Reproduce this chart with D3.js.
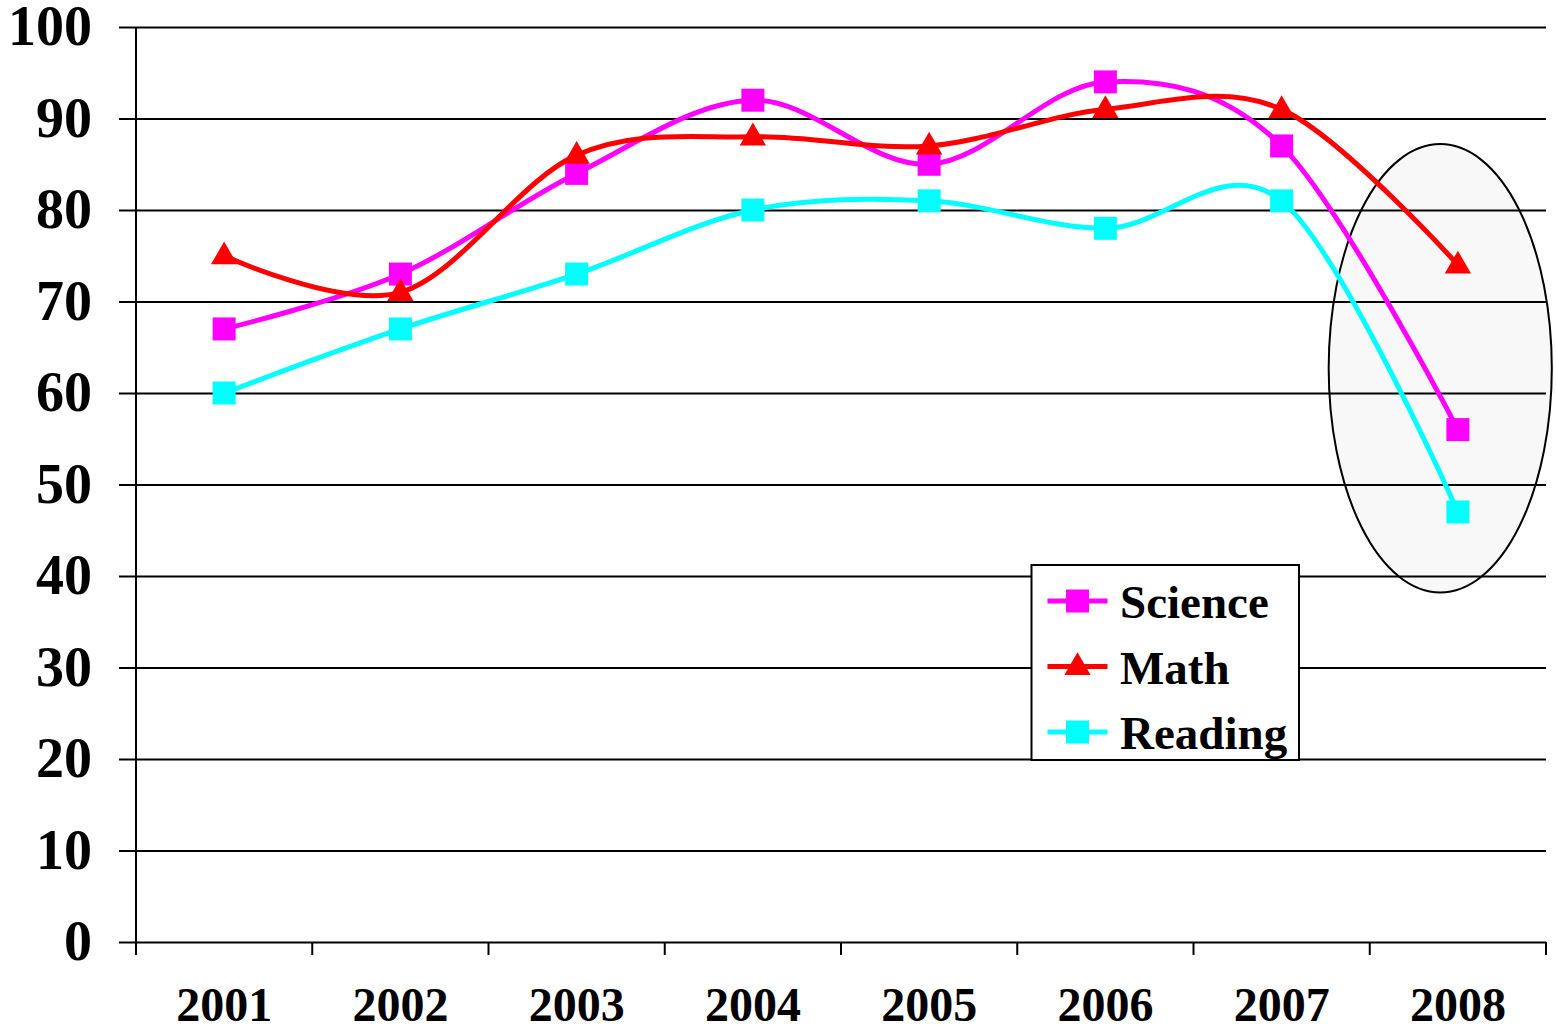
<!DOCTYPE html>
<html>
<head>
<meta charset="utf-8">
<script src="https://cdn.jsdelivr.net/npm/d3@7"></script>
<style>
  body { margin: 0; background: #fff; }
  text { font-family: "Liberation Serif", "Times New Roman", serif; font-weight: bold; }
</style>
</head>
<body>
<svg id="chart" width="1556" height="1030"></svg>
<script>
const years = ['2001', '2002', '2003', '2004', '2005', '2006', '2007', '2008'];
const science = [67, 73, 84, 92, 85, 94, 87, 56];
const math = [75, 71, 86, 88, 87, 91, 91, 74];
const reading = [60, 67, 73, 80, 81, 78, 81, 47];
const yTicks = [0, 10, 20, 30, 40, 50, 60, 70, 80, 90, 100];

const series = [
  { name: 'Science', values: science, color: '#ff00ff', marker: 'square' },
  { name: 'Math', values: math, color: '#ff0000', marker: 'triangle' },
  { name: 'Reading', values: reading, color: '#00ffff', marker: 'square' }
];

const svg = d3.select('#chart');
const plotLeft = 136, plotRight = 1546, plotTop = 27, plotBottom = 942;

const x = d3.scaleBand().domain(years).range([plotLeft, plotRight]);
const y = d3.scaleLinear().domain([0, 100]).range([plotBottom, plotTop]);
const cx = d => x(d) + x.bandwidth() / 2;

// highlight ellipse around the last year
const band = x.bandwidth();
svg.append('ellipse')
    .attr('cx', x('2008') + band * 0.4)
    .attr('cy', (y(87.2) + y(38.2)) / 2)
    .attr('rx', band * 0.633)
    .attr('ry', (y(38.2) - y(87.2)) / 2)
    .attr('fill', '#f8f8f8')
    .attr('stroke', '#000')
    .attr('stroke-width', 2);

// gridlines
const grid = svg.append('g')
    .attr('transform', 'translate(' + plotLeft + ',0)')
    .call(d3.axisLeft(y).tickValues(yTicks).tickSize(-(plotRight - plotLeft)).tickFormat(''));
grid.select('.domain').remove();
grid.selectAll('line').attr('stroke', '#000').attr('stroke-width', 2);

// y axis
const yAxis = svg.append('g')
    .attr('transform', 'translate(' + plotLeft + ',0)')
    .call(d3.axisLeft(y).tickValues(yTicks).tickSize(17).tickPadding(27).tickSizeOuter(0));
yAxis.select('.domain').attr('stroke', '#000').attr('stroke-width', 2)
    .attr('d', 'M0,' + plotTop + 'V' + (plotBottom + 13));
yAxis.selectAll('line').attr('stroke', '#000').attr('stroke-width', 2);
yAxis.selectAll('text').attr('font-size', 56).attr('fill', '#000')
    .style('font-family', '"Liberation Serif", "Times New Roman", serif').style('font-weight', 'bold');

// x axis: ticks at band edges, labels at centres
const xAxis = svg.append('g')
    .attr('transform', 'translate(0,' + plotBottom + ')')
    .call(d3.axisBottom(x).tickSize(0).tickPadding(45).tickSizeOuter(0));
xAxis.select('.domain').remove();
xAxis.selectAll('text').attr('font-size', 48).attr('fill', '#000')
    .style('font-family', '"Liberation Serif", "Times New Roman", serif').style('font-weight', 'bold');

svg.append('g')
  .selectAll('line')
  .data(years.map(d => x(d)).concat([plotRight]))
  .enter()
    .append('line')
    .attr('x1', d => d).attr('x2', d => d)
    .attr('y1', plotBottom).attr('y2', plotBottom + 13)
    .attr('stroke', '#000').attr('stroke-width', 2);

// lines
const line = d3.line()
    .x((d, i) => cx(years[i]))
    .y(d => y(d))
    .curve(d3.curveCardinal.tension(0));

const tri = d3.symbol().type(d3.symbolTriangle).size(300);

series.forEach(s => {
  svg.append('path')
      .attr('d', line(s.values))
      .attr('fill', 'none')
      .attr('stroke', s.color)
      .attr('stroke-width', 5);
});

series.forEach(s => {
  const g = svg.append('g');
  if (s.marker === 'square') {
    g.selectAll('rect')
      .data(s.values)
      .enter()
        .append('rect')
        .attr('x', (d, i) => cx(years[i]) - 11.5)
        .attr('y', d => y(d) - 11.5)
        .attr('width', 23).attr('height', 23)
        .attr('fill', s.color);
  } else {
    g.selectAll('path')
      .data(s.values)
      .enter()
        .append('path')
        .attr('d', tri)
        .attr('transform', (d, i) => 'translate(' + cx(years[i]) + ',' + (y(d) + 1) + ')')
        .attr('fill', s.color);
  }
});

// legend
const legend = svg.append('g').attr('transform', 'translate(1031.5,565)');
legend.append('rect')
    .attr('width', 267.5).attr('height', 195)
    .attr('fill', '#fff').attr('stroke', '#000').attr('stroke-width', 2);

const rows = legend.selectAll('.row')
  .data(series)
  .enter()
    .append('g')
    .classed('row', true)
    .attr('transform', (d, i) => 'translate(0,' + (36 + i * 65.5) + ')');

rows.append('line')
    .attr('x1', 16).attr('x2', 76)
    .attr('stroke', d => d.color).attr('stroke-width', 5);
rows.filter(d => d.marker === 'square').append('rect')
    .attr('x', 34.5).attr('y', -11.5).attr('width', 23).attr('height', 23)
    .attr('fill', d => d.color);
rows.filter(d => d.marker === 'triangle').append('path')
    .attr('d', tri).attr('transform', 'translate(46,1)')
    .attr('fill', d => d.color);
rows.append('text')
    .attr('x', 88.5).attr('y', 17)
    .attr('font-size', 47)
    .text(d => d.name);
</script>
</body>
</html>
